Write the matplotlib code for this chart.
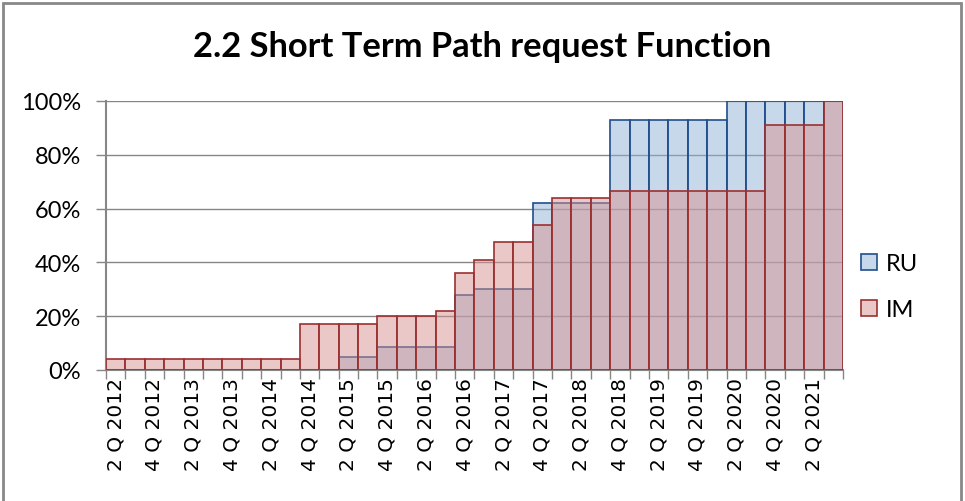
import matplotlib.pyplot as plt
import matplotlib.patches as patches
import numpy as np

quarters = ['2 Q 2012', '3 Q 2012', '4 Q 2012', '1 Q 2013', '2 Q 2013', '3 Q 2013',
            '4 Q 2013', '1 Q 2014', '2 Q 2014', '3 Q 2014', '4 Q 2014', '1 Q 2015',
            '2 Q 2015', '3 Q 2015', '4 Q 2015', '1 Q 2016', '2 Q 2016', '3 Q 2016',
            '4 Q 2016', '1 Q 2017', '2 Q 2017', '3 Q 2017', '4 Q 2017', '1 Q 2018',
            '2 Q 2018', '3 Q 2018', '4 Q 2018', '1 Q 2019', '2 Q 2019', '3 Q 2019',
            '4 Q 2019', '1 Q 2020', '2 Q 2020', '3 Q 2020', '4 Q 2020', '1 Q 2021',
            '2 Q 2021', '3 Q 2021']

# percent values
ru = [0, 0, 0, 0, 0, 0, 0, 0, 0, 0, 0, 0,
      5, 5, 8.5, 8.5, 8.5, 8.5, 28, 30, 30, 30, 62, 62,
      62, 62, 93, 93, 93, 93, 93, 93, 100, 100, 100, 100, 100, 100]
im = [4, 4, 4, 4, 4, 4, 4, 4, 4, 4, 17, 17,
      17, 17, 20, 20, 20, 22, 36, 41, 47.5, 47.5, 54, 64,
      64, 64, 66.7, 66.7, 66.7, 66.7, 66.7, 66.7, 66.7, 66.7, 91, 91, 91, 100]

x = np.arange(len(quarters))

fig = plt.figure(figsize=(9.65, 5.02), dpi=100)
ax = fig.add_axes([0.1098, 0.261, 0.7637, 0.5359])

ax.bar(x, np.array(ru) / 100, width=1.0, color=(147/255, 179/255, 217/255, 0.5),
       edgecolor='#1F4E8C', linewidth=1.2, label='RU', zorder=2)
ax.bar(x, np.array(im) / 100, width=1.0, color=(215/255, 147/255, 147/255, 0.5),
       edgecolor='#9B3030', linewidth=1.2, label='IM', zorder=3)

ax.set_xlim(-0.5, len(quarters) - 0.5)
ax.set_ylim(0, 1)
ax.set_yticks(np.arange(0, 1.01, 0.2))
ax.set_yticklabels([f'{int(round(v * 100))}%' for v in np.arange(0, 1.01, 0.2)],
                   fontfamily='Lato', fontsize=17)
ax.yaxis.grid(True, color='#868686', linewidth=1.0, zorder=1)
ax.set_axisbelow(True)

ax.set_xticks(x[::2])
ax.set_xticklabels(quarters[::2], rotation=90, fontfamily='DejaVu Sans', fontsize=14.5)
ax.set_xticks(np.arange(-0.5, len(quarters), 1), minor=True)
ax.tick_params(axis='x', which='major', length=0, pad=5)
ax.tick_params(axis='x', which='minor', length=6.5, width=1.0, color='#868686')
ax.tick_params(axis='y', length=7, width=1.0, color='#868686', pad=11)

for s in ['top', 'right']:
    ax.spines[s].set_visible(False)
ax.spines['left'].set_color('#868686')
ax.spines['left'].set_linewidth(1.5)
ax.spines['bottom'].set_color('#868686')
ax.spines['bottom'].set_linewidth(1.5)

handles, labels = ax.get_legend_handles_labels()
leg = fig.legend(handles, labels, loc='center left', bbox_to_anchor=(0.870, 0.427),
                 frameon=False, prop={'family': 'Lato', 'size': 17},
                 handlelength=0.68, handleheight=0.68, handletextpad=0.4,
                 labelspacing=1.05)

fig.text(0.5, 0.906, '2.2 Short Term Path request Function', ha='center', va='center',
         fontfamily='Lato', fontweight='bold', fontsize=24.8)

fig.patches.append(patches.Rectangle((0.0036, -0.02), 0.9922, 1.012, transform=fig.transFigure,
                                     fill=False, edgecolor='#888888', linewidth=2.0))

fig.savefig('out.png', dpi=100)
